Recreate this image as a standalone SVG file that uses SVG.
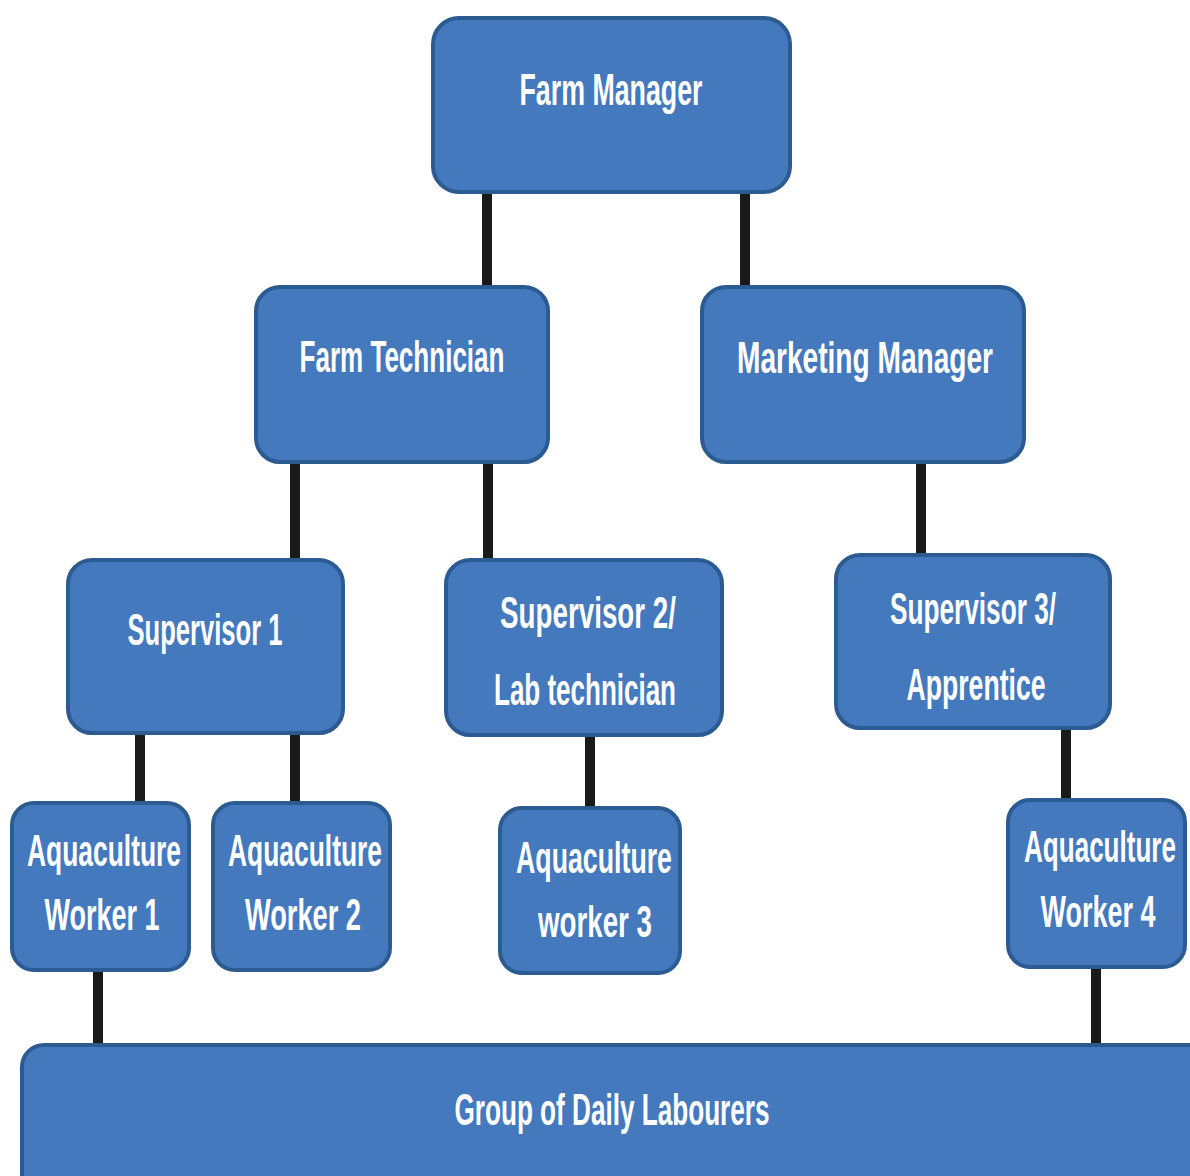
<svg xmlns="http://www.w3.org/2000/svg" width="1190" height="1176" viewBox="0 0 1190 1176">
<style>
.box{fill:#4479BE;stroke:#2B5B90;stroke-width:4}
.lbl{fill:#FFFFFF;font-family:"Liberation Sans Narrow","Liberation Sans",Arial,sans-serif;font-weight:bold;font-size:44px}
.c{stroke:#1A1A1A;stroke-width:10;fill:none}
</style>
<rect width="1190" height="1176" fill="#FFFFFF"/>
<g id="connectors">
<line class="c" x1="487" y1="192" x2="487" y2="289"/>
<line class="c" x1="745" y1="192" x2="745" y2="289"/>
<line class="c" x1="295" y1="462" x2="295" y2="562"/>
<line class="c" x1="488" y1="462" x2="488" y2="562"/>
<line class="c" x1="921" y1="462" x2="921" y2="557"/>
<line class="c" x1="140" y1="733" x2="140" y2="805"/>
<line class="c" x1="295" y1="733" x2="295" y2="805"/>
<line class="c" x1="590" y1="735" x2="590" y2="810"/>
<line class="c" x1="1066" y1="728" x2="1066" y2="802"/>
<line class="c" x1="98" y1="970" x2="98" y2="1048"/>
<line class="c" x1="1096" y1="967" x2="1096" y2="1048"/>
</g>
<g id="farm-manager">
<rect class="box" x="433" y="18" width="357" height="174" rx="26"/>
<text class="lbl" x="611" y="105" text-anchor="middle" textLength="183" lengthAdjust="spacingAndGlyphs">Farm Manager</text>
</g>
<g id="farm-technician">
<rect class="box" x="256" y="287" width="292" height="175" rx="24"/>
<text class="lbl" x="402" y="372" text-anchor="middle" textLength="205" lengthAdjust="spacingAndGlyphs">Farm Technician</text>
</g>
<g id="marketing-manager">
<rect class="box" x="702" y="287" width="322" height="175" rx="24"/>
<text class="lbl" x="865" y="373" text-anchor="middle" textLength="256" lengthAdjust="spacingAndGlyphs">Marketing  Manager</text>
</g>
<g id="supervisor-1">
<rect class="box" x="68" y="560" width="275" height="173" rx="24"/>
<text class="lbl" x="205" y="645" text-anchor="middle" textLength="155" lengthAdjust="spacingAndGlyphs">Supervisor 1</text>
</g>
<g id="supervisor-2">
<rect class="box" x="446" y="560" width="276" height="175" rx="24"/>
<text class="lbl" x="588" y="628" text-anchor="middle" textLength="176" lengthAdjust="spacingAndGlyphs">Supervisor 2/</text>
<text class="lbl" x="585" y="705" text-anchor="middle" textLength="182" lengthAdjust="spacingAndGlyphs">Lab technician</text>
</g>
<g id="supervisor-3">
<rect class="box" x="836" y="555" width="274" height="173" rx="24"/>
<text class="lbl" x="973" y="624" text-anchor="middle" textLength="166" lengthAdjust="spacingAndGlyphs">Supervisor 3/</text>
<text class="lbl" x="976" y="700" text-anchor="middle" textLength="139" lengthAdjust="spacingAndGlyphs">Apprentice</text>
</g>
<g id="aquaculture-worker-1">
<rect class="box" x="12" y="803" width="177" height="167" rx="22"/>
<text class="lbl" x="104" y="866" text-anchor="middle" textLength="154" lengthAdjust="spacingAndGlyphs">Aquaculture</text>
<text class="lbl" x="102" y="930" text-anchor="middle" textLength="115" lengthAdjust="spacingAndGlyphs">Worker 1</text>
</g>
<g id="aquaculture-worker-2">
<rect class="box" x="213" y="803" width="177" height="167" rx="22"/>
<text class="lbl" x="305" y="866" text-anchor="middle" textLength="154" lengthAdjust="spacingAndGlyphs">Aquaculture</text>
<text class="lbl" x="303" y="930" text-anchor="middle" textLength="116" lengthAdjust="spacingAndGlyphs">Worker 2</text>
</g>
<g id="aquaculture-worker-3">
<rect class="box" x="500" y="808" width="180" height="165" rx="22"/>
<text class="lbl" x="594" y="873" text-anchor="middle" textLength="156" lengthAdjust="spacingAndGlyphs">Aquaculture</text>
<text class="lbl" x="595" y="937" text-anchor="middle" textLength="114" lengthAdjust="spacingAndGlyphs">worker 3</text>
</g>
<g id="aquaculture-worker-4">
<rect class="box" x="1008" y="800" width="177" height="167" rx="22"/>
<text class="lbl" x="1100" y="862" text-anchor="middle" textLength="152" lengthAdjust="spacingAndGlyphs">Aquaculture</text>
<text class="lbl" x="1098" y="927" text-anchor="middle" textLength="115" lengthAdjust="spacingAndGlyphs">Worker 4</text>
</g>
<g id="group-of-daily-labourers">
<rect class="box" x="22" y="1045" width="1200" height="150" rx="22"/>
<text class="lbl" x="612" y="1125" text-anchor="middle" textLength="315" lengthAdjust="spacingAndGlyphs">Group of Daily Labourers</text>
</g>
</svg>
